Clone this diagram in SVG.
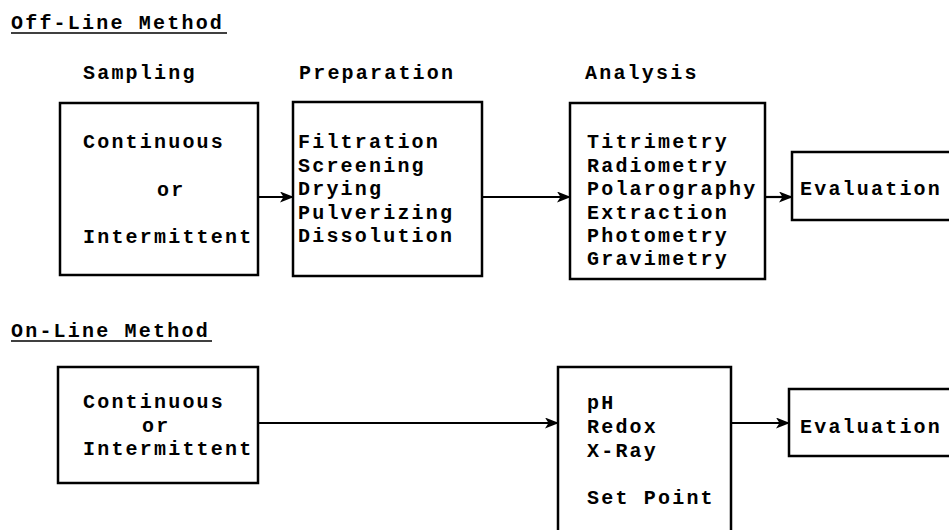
<svg xmlns="http://www.w3.org/2000/svg" width="949" height="530" viewBox="0 0 949 530">
<defs>
<style>
text{font-family:"Liberation Mono","Courier New",monospace;font-size:20px;letter-spacing:2.2px;fill:#000;font-weight:bold}
.box{fill:#fff;stroke:#000;stroke-width:2.5}
.con{stroke:#000;stroke-width:2.2;fill:none}
.ul{stroke:#000;stroke-width:1.6}
</style>
<marker id="ah" viewBox="0 0 14 11" refX="13" refY="5.5" markerWidth="14" markerHeight="11" markerUnits="userSpaceOnUse" orient="auto">
<path d="M0,0 L14,5.5 L0,11 L3.5,5.5 Z" fill="#000"/>
</marker>
</defs>
<rect width="949" height="530" fill="#fff"/>

<g id="headings">
<text x="11" y="29">Off-Line Method</text>
<line class="ul" x1="11" y1="33" x2="227" y2="33"/>
<text x="83" y="79">Sampling</text>
<text x="299" y="79">Preparation</text>
<text x="585" y="79">Analysis</text>
<text x="11" y="337">On-Line Method</text>
<line class="ul" x1="11" y1="341" x2="212" y2="341"/>
</g>

<g id="connectors">
<line class="con" x1="258" y1="197" x2="293" y2="197" marker-end="url(#ah)"/>
<line class="con" x1="482" y1="197" x2="570" y2="197" marker-end="url(#ah)"/>
<line class="con" x1="765" y1="197" x2="792" y2="197" marker-end="url(#ah)"/>
<line class="con" x1="258" y1="423" x2="558" y2="423" marker-end="url(#ah)"/>
<line class="con" x1="731" y1="423" x2="789" y2="423" marker-end="url(#ah)"/>
</g>

<g id="sampling-offline">
<rect class="box" x="60" y="103" width="198" height="172"/>
<text x="83" y="148">Continuous</text>
<text x="157" y="196">or</text>
<text x="83" y="243">Intermittent</text>
</g>

<g id="preparation">
<rect class="box" x="293" y="102" width="189" height="174"/>
<text x="298" y="148">Filtration</text>
<text x="298" y="171.5">Screening</text>
<text x="298" y="195">Drying</text>
<text x="298" y="218.5">Pulverizing</text>
<text x="298" y="242">Dissolution</text>
</g>

<g id="analysis">
<rect class="box" x="570" y="103" width="195" height="176"/>
<text x="587" y="148">Titrimetry</text>
<text x="587" y="171.5">Radiometry</text>
<text x="587" y="195">Polarography</text>
<text x="587" y="218.5">Extraction</text>
<text x="587" y="242">Photometry</text>
<text x="587" y="265">Gravimetry</text>
</g>

<g id="evaluation-offline">
<rect class="box" x="792" y="152" width="170" height="68"/>
<text x="800" y="195">Evaluation</text>
</g>

<g id="sampling-online">
<rect class="box" x="58" y="367" width="200" height="116"/>
<text x="83" y="408">Continuous</text>
<text x="142" y="432">or</text>
<text x="83" y="455">Intermittent</text>
</g>

<g id="measurement-online">
<rect class="box" x="558" y="367" width="173" height="175"/>
<text x="587" y="409">pH</text>
<text x="587" y="433">Redox</text>
<text x="587" y="457">X-Ray</text>
<text x="587" y="504">Set Point</text>
</g>

<g id="evaluation-online">
<rect class="box" x="789" y="389" width="175" height="67"/>
<text x="800" y="433">Evaluation</text>
</g>
</svg>
